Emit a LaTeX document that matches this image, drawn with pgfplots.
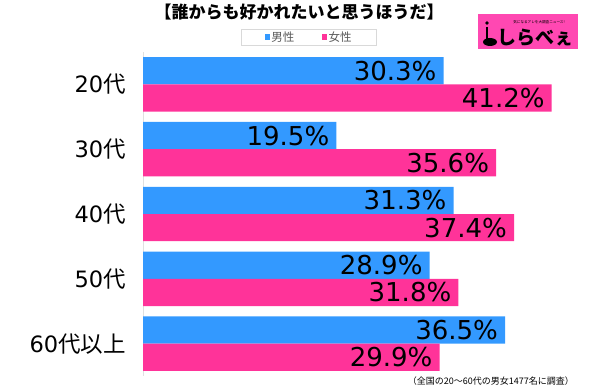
\documentclass[border=0pt]{standalone}
\usepackage{fontspec}
\usepackage{pgfplots}
\pgfplotsset{compat=1.18}
\newfontfamily\cjk{Noto Sans CJK JP}
\newfontfamily\numf{DejaVu Sans}
\definecolor{mblue}{RGB}{51,153,255}
\definecolor{fpink}{RGB}{255,51,153}
\definecolor{logopink}{RGB}{255,72,178}
\begin{document}
\begin{tikzpicture}
\path[use as bounding box] (0,0) rectangle (600bp,387bp);
\begin{axis}[
  at={(143bp,11bp)}, anchor=south west, scale only axis,
  width=436.5bp, height=324bp,
  xbar, xmin=0, xmax=44, ymin=-0.5, ymax=4.5, y dir=reverse,
  hide x axis, axis y line*=left,
  y axis line style={draw=black!12, line width=1bp, -},
  ytick={0,1,2,3,4},
  yticklabels={{\numf 20}代,{\numf 30}代,{\numf 40}代,{\numf 50}代,{\numf 60}代以上},
  yticklabel style={font=\cjk\fontsize{22.5bp}{26bp}\selectfont, anchor=east, inner sep=0pt, xshift=-17bp},
  major tick length=0pt, ytick style={draw=none},
  bar width=0.42,
  nodes near coords={\pgfmathprintnumber[assume math mode=true,fixed,fixed zerofill,precision=1]{\pgfplotspointmeta}\%},
  every node near coord/.append style={font=\numf\fontsize{26bp}{30bp}\selectfont, anchor=east, xshift=-7bp, inner sep=0pt, text=black},
  legend columns=2,
  legend style={at={(0.380,1.046)}, anchor=center, draw=black!15, fill=white,
    font=\cjk\fontsize{11.5bp}{13bp}\selectfont, text=black!65,
    inner xsep=23.5bp, inner ysep=1bp, nodes={inner sep=1.5bp},
    /tikz/every even column/.append style={column sep=26bp}},
  legend cell align=left,
  legend image code/.code={\fill[#1] (0bp,-2.6bp) rectangle (5.2bp,2.6bp);},
]
\addplot[fill=mblue, draw=none, bar shift=-0.21] coordinates {(30.3,0) (19.5,1) (31.3,2) (28.9,3) (36.5,4)};
\addplot[fill=fpink, draw=none, bar shift=0.21] coordinates {(41.2,0) (35.6,1) (37.4,2) (31.8,3) (29.9,4)};
\legend{男性,女性}
\end{axis}
\node[font=\cjk\bfseries\fontsize{17bp}{20bp}\selectfont] at (299bp,375bp) {【誰からも好かれたいと思うほうだ】};
\node[font=\cjk\fontsize{9bp}{10bp}\selectfont, anchor=east, inner sep=0] at (574bp,5.5bp) {（全国の20～60代の男女1477名に調査）};
\fill[logopink] (478bp,338bp) rectangle (578bp,373bp);
\node[font=\cjk\bfseries\fontsize{19bp}{20bp}\selectfont, anchor=west, inner sep=0] at (497bp,349bp) {しらべぇ};
\node[font=\cjk\fontsize{3.6bp}{4bp}\selectfont, inner sep=0] at (539bp,365bp) {気になるアレを大調査ニュース!};
\fill (487bp,364bp) circle (1.8bp);
\draw[line width=2.4bp] (487bp,360bp) -- (487bp,348bp);
\fill (490bp,345bp) ellipse (7bp and 4bp);
\end{tikzpicture}
\end{document}
